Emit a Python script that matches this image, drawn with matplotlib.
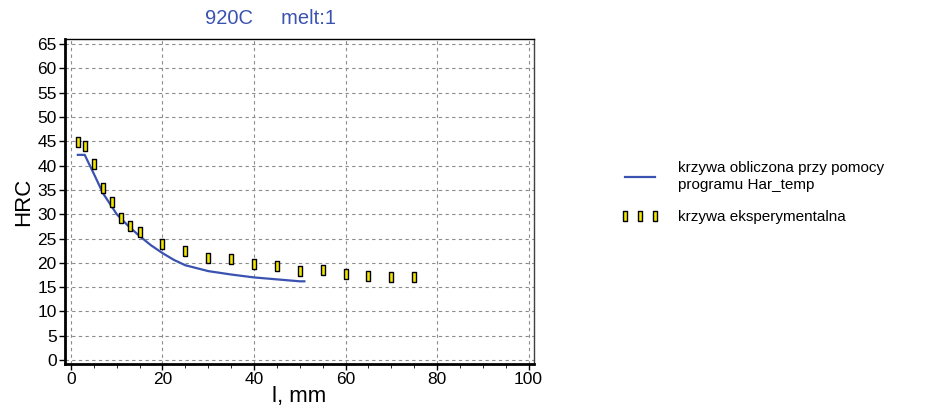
import numpy as np
import matplotlib.pyplot as plt
from matplotlib.ticker import MultipleLocator

plt.rcParams['font.family'] = ['Liberation Sans', 'DejaVu Sans']

# krzywa eksperymentalna
x_exp = [1.5, 3, 5, 7, 9, 11, 13, 15, 20, 25, 30, 35, 40, 45, 50, 55, 60, 65, 70, 75]
hrc_exp = [44.9, 44.0, 40.3, 35.4, 32.5, 29.3, 27.6, 26.4, 23.8, 22.4, 21.0, 20.8,
           19.8, 19.3, 18.4, 18.6, 17.7, 17.3, 17.1, 17.1]

# krzywa obliczona (Har_temp)
x_calc = [1.5, 3, 5, 7, 10, 12.5, 15, 17.5, 20, 22.5, 25, 30, 35, 40, 45, 50, 51]
hrc_calc = [42.2, 42.2, 38.3, 34.3, 30.0, 27.6, 25.5, 23.6, 22.0, 20.6, 19.5, 18.3,
            17.6, 17.0, 16.6, 16.2, 16.2]

blue = '#3a52b0'
rect = [(-0.5, -1), (0.5, -1), (0.5, 1), (-0.5, 1), (-0.5, -1)]

fig = plt.figure(figsize=(9.33, 4.16), dpi=100)
ax = fig.add_axes([0.0697, 0.125, 0.5027, 0.781])

ax.plot(x_calc, hrc_calc, color=blue, lw=1.6,
        label='krzywa obliczona przy pomocy\nprogramu Har_temp')
ax.plot(x_exp, hrc_exp, ls='none', marker=rect, markersize=7,
        markerfacecolor='#f2e600', markeredgecolor='black', markeredgewidth=1.0,
        label='krzywa eksperymentalna')

ax.set_xlim(-1.3, 101.2)
ax.set_ylim(-0.8, 66)
ax.xaxis.set_major_locator(MultipleLocator(20))
ax.xaxis.set_minor_locator(MultipleLocator(5))
ax.yaxis.set_major_locator(MultipleLocator(5))
ax.grid(True, which='major', ls=(0, (3, 3)), color='#8c8c8c', lw=0.8)
ax.tick_params(labelsize=12.5, length=4, width=1, pad=2)
ax.tick_params(which='minor', length=3)

for s in ['left', 'bottom']:
    ax.spines[s].set_linewidth(2)
ax.spines['top'].set_linewidth(1)
ax.spines['right'].set_linewidth(1)
ax.spines['right'].set_color('#404040')

ax.set_xlabel('l, mm', fontsize=16, labelpad=-1)
ax.set_ylabel('HRC', fontsize=16, labelpad=2)
fig.text(0.29, 0.955, '920C     melt:1', color=blue, fontsize=14.5, ha='center', va='center')

fig.legend(loc='upper left', bbox_to_anchor=(0.65, 0.645), frameon=False,
           fontsize=11, numpoints=3, handlelength=2.6, handletextpad=1.2,
           labelspacing=1.2)

fig.savefig('out.png', dpi=100)
